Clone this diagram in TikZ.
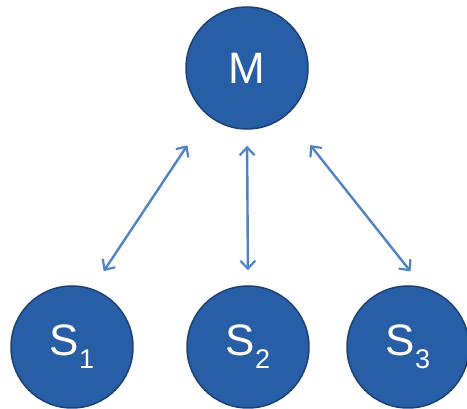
\documentclass[tikz,border=0pt]{standalone}
\usepackage{fontspec}
\setmainfont{Liberation Sans}
\usepackage{tikz}
\usetikzlibrary{arrows.meta}
\usepackage{xcolor}
\definecolor{nodeblue}{RGB}{40,94,165}
\definecolor{nodeedge}{RGB}{27,64,115}
\definecolor{linkblue}{RGB}{80,130,196}
\tikzstyle{unit} = [circle,fill=nodeblue,draw=nodeedge,line width=1.5pt,minimum size=122pt,inner sep=0pt,text=white,font=\fontsize{44}{44}\selectfont]
\tikzstyle{link} = [linkblue,line width=2.4pt,{Straight Barb[length=8pt,width=15pt,line width=2.2pt]}-{Straight Barb[length=8pt,width=15pt,line width=2.2pt]}]
\newcommand{\subidx}[1]{\raisebox{-13pt}{\fontsize{27}{27}\selectfont #1}}

\begin{document}
\begin{tikzpicture}[x=1pt,y=-1pt]
\useasboundingbox (0,0) rectangle (467,409);

\node[unit] (M) at (247,68) {M};
\node[unit] (S1) at (72,347) {S\subidx{1}};
\node[unit] (S2) at (248,347) {S\subidx{2}};
\node[unit] (S3) at (408,347) {S\subidx{3}};

%\draw[link] (M) -- (S1);
\draw[link,shorten <=36pt,shorten >=21pt] (M.230) -- (S1.71);
\draw[link,shorten <=16pt,shorten >=15pt] (M.south) -- (S2.north);
\draw[link,shorten <=38pt,shorten >=20pt] (M.310) -- (S3.76);
\end{tikzpicture}
\end{document}
